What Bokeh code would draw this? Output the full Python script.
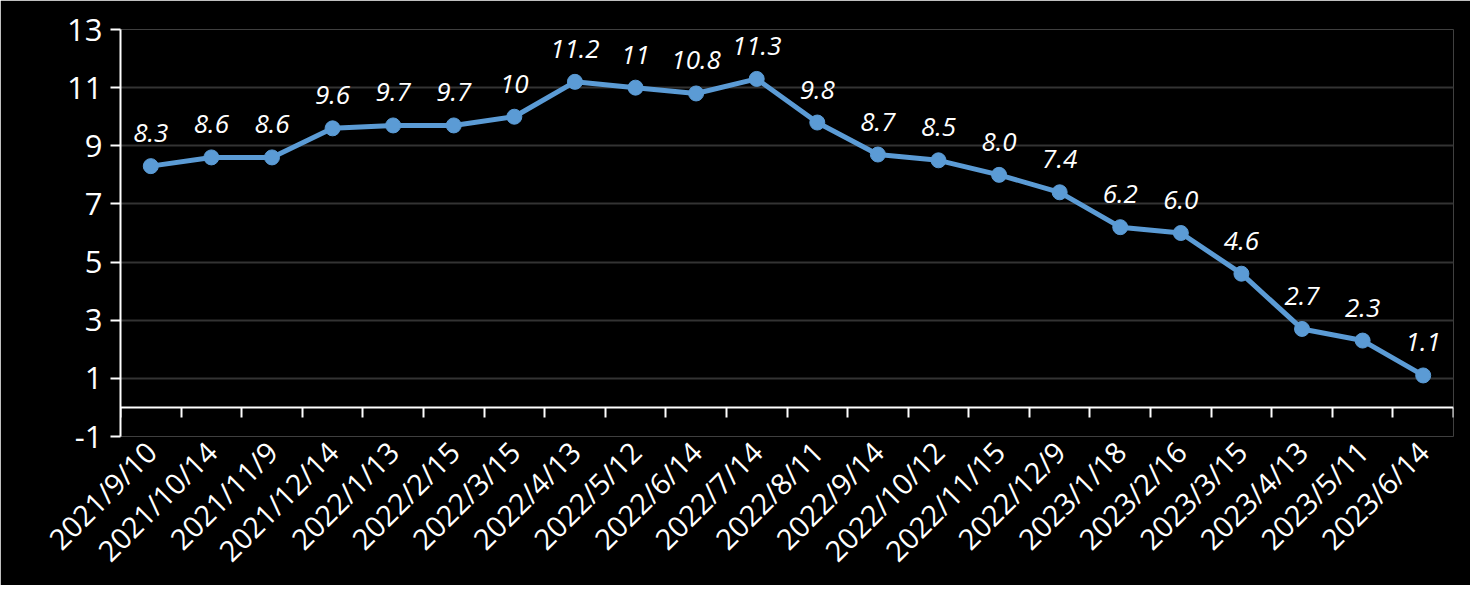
import numpy as np
from math import pi
from bokeh.plotting import figure
from bokeh.models import Range1d, LinearAxis, FixedTicker, ColumnDataSource
from bokeh.core.properties import value
from bokeh.embed import file_html
from bokeh.resources import INLINE

dates = ["2021/9/10", "2021/10/14", "2021/11/9", "2021/12/14", "2022/1/13", "2022/2/15",
         "2022/3/15", "2022/4/13", "2022/5/12", "2022/6/14", "2022/7/14", "2022/8/11",
         "2022/9/14", "2022/10/12", "2022/11/15", "2022/12/9", "2023/1/18", "2023/2/16",
         "2023/3/15", "2023/4/13", "2023/5/11", "2023/6/14"]
values = [8.3, 8.6, 8.6, 9.6, 9.7, 9.7, 10, 11.2, 11, 10.8, 11.3, 9.8,
          8.7, 8.5, 8.0, 7.4, 6.2, 6.0, 4.6, 2.7, 2.3, 1.1]
labels = ["8.3", "8.6", "8.6", "9.6", "9.7", "9.7", "10", "11.2", "11", "10.8", "11.3", "9.8",
          "8.7", "8.5", "8.0", "7.4", "6.2", "6.0", "4.6", "2.7", "2.3", "1.1"]
y_ticks = [-1, 1, 3, 5, 7, 9, 11, 13]
y_tick_labels = ["-1", "1", "3", "5", "7", "9", "11", "13"]

n = len(dates)
xs = [i + 0.5 for i in range(n)]
bounds = list(range(n + 1))

FONT = "Open Sans"
LINE = "#5B9BD5"
GRID = "#333333"

p = figure(width=1470, height=585, output_backend="svg", toolbar_location=None,
           x_range=Range1d(0, n), y_range=Range1d(y_ticks[0], y_ticks[-1]),
           x_axis_type=None, background_fill_color="black", border_fill_color="black",
           min_border_left=120, min_border_right=17, min_border_top=29, min_border_bottom=145)
p.outline_line_color = None

# y axis
ya = p.yaxis[0]
ya.ticker = FixedTicker(ticks=y_ticks, minor_ticks=[])
ya.major_label_overrides = {t: s for t, s in zip(y_ticks, y_tick_labels)}
ya.axis_line_color = "white"
ya.axis_line_width = 2
ya.major_tick_line_color = "white"
ya.major_tick_line_width = 2
ya.major_tick_out = 10
ya.major_tick_in = 0
ya.minor_tick_line_color = None
ya.major_label_text_color = "white"
ya.major_label_text_font = FONT
ya.major_label_text_font_size = "31px"
ya.major_label_standoff = 8

# category label axis
xa = LinearAxis(ticker=FixedTicker(ticks=xs, minor_ticks=[]),
                major_label_overrides={x: d for x, d in zip(xs, dates)})
xa.axis_line_color = None
xa.major_tick_line_color = None
xa.minor_tick_line_color = None
xa.major_label_orientation = pi / 4
xa.major_label_text_color = "white"
xa.major_label_text_font = FONT
xa.major_label_text_font_size = "29px"
xa.major_label_standoff = 4
p.add_layout(xa, "below")

# zero line axis with boundary ticks
za = LinearAxis(ticker=FixedTicker(ticks=bounds, minor_ticks=[]), fixed_location=0,
                major_label_overrides={b: "" for b in bounds})
za.axis_line_color = "white"
za.axis_line_width = 2
za.major_tick_line_color = "white"
za.major_tick_line_width = 2
za.major_tick_in = 10
za.major_tick_out = 0
za.minor_tick_line_color = None
za.major_label_standoff = 0
p.add_layout(za, "above")

# grids
p.xgrid.ticker = FixedTicker(ticks=bounds)
p.ygrid.ticker = FixedTicker(ticks=y_ticks)
for g in (p.xgrid, p.ygrid):
    g.grid_line_color = GRID
    g.grid_line_width = 2

src = ColumnDataSource(dict(x=xs, y=values, lab=labels))
p.line("x", "y", source=src, line_color=LINE, line_width=5)
p.scatter("x", "y", source=src, size=15, fill_color=LINE, line_color=LINE)
p.text("x", "y", text="lab", source=src, y_offset=-33, text_align="center",
       text_baseline="alphabetic", text_color="white", text_font=value(FONT),
       text_font_style="italic", text_font_size="26px")

open("out.html", "w").write(file_html(p, INLINE))
